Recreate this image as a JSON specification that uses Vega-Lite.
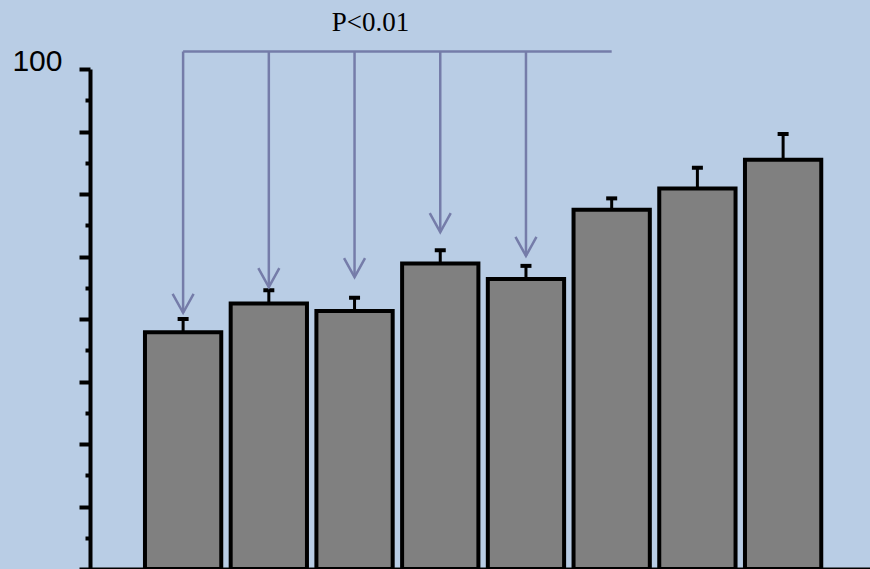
{
  "$schema": "https://vega.github.io/schema/vega-lite/v6.json",
  "width": 780,
  "height": 500,
  "autosize": {"type": "none"},
  "padding": {"left": 90, "top": 69, "right": 0, "bottom": 0},
  "background": "#b9cde5",
  "config": {"view": {"stroke": null}},
  "resolve": {"axis": {"y": "independent"}},
  "datasets": {
    "bars": [
      {"group": "g1", "mean": 57.9, "upper": 60.0},
      {"group": "g2", "mean": 62.5, "upper": 64.6},
      {"group": "g3", "mean": 61.3, "upper": 63.4},
      {"group": "g4", "mean": 68.9, "upper": 71.0},
      {"group": "g5", "mean": 66.4, "upper": 68.5},
      {"group": "g6", "mean": 77.5, "upper": 79.3},
      {"group": "g7", "mean": 80.9, "upper": 84.2},
      {"group": "g8", "mean": 85.5, "upper": 89.6}
    ],
    "arrows": [
      {"group": "g1", "level": 102.8, "tip": 61.0},
      {"group": "g2", "level": 102.8, "tip": 65.1},
      {"group": "g3", "level": 102.8, "tip": 66.7},
      {"group": "g4", "level": 102.8, "tip": 73.9},
      {"group": "g5", "level": 102.8, "tip": 70.1}
    ],
    "bracket": [{"from": "g1", "to": "g6", "level": 102.8}],
    "note": [{"group": "g3", "level": 106.1, "label": "P<0.01"}]
  },
  "encoding": {
    "x": {
      "field": "group",
      "type": "nominal",
      "scale": {"domain": ["g1","g2","g3","g4","g5","g6","g7","g8"], "paddingInner": 0.11, "paddingOuter": 0.605, "align": 0.53},
      "axis": {"title": null, "labels": false, "ticks": false, "domainColor": "black", "domainWidth": 4, "grid": false}
    }
  },
  "layer": [
    {
      "data": {"name": "bars"},
      "mark": {"type": "bar", "fill": "#808080", "stroke": "black", "strokeWidth": 4, "strokeJoin": "miter"},
      "encoding": {
        "y": {
          "field": "mean",
          "type": "quantitative",
          "scale": {"domain": [20, 100], "zero": false, "nice": false},
          "axis": {
            "orient": "left",
            "title": null,
            "grid": false,
            "values": [20,30,40,50,60,70,80,90,100],
            "domainColor": "black",
            "domainWidth": 4,
            "tickColor": "black",
            "tickWidth": 4,
            "tickSize": 11,
            "labelExpr": "datum.value === 100 ? '100' : ''",
            "labelOverlap": false,
            "labelFont": "Liberation Sans",
            "labelFontSize": 30,
            "labelColor": "black",
            "labelPadding": 17,
            "labelBaseline": "alphabetic",
            "labelOffset": 1
          }
        },
        "y2": {"datum": 20}
      }
    },
    {
      "data": {"name": "bars"},
      "mark": {"type": "rule", "stroke": "black", "strokeWidth": 3},
      "encoding": {
        "y": {
          "field": "mean",
          "type": "quantitative",
          "axis": {
            "orient": "left",
            "title": null,
            "grid": false,
            "values": [25,35,45,55,65,75,85,95],
            "domain": false,
            "labels": false,
            "tickColor": "black",
            "tickWidth": 4,
            "tickSize": 5
          }
        },
        "y2": {"field": "upper"}
      }
    },
    {
      "data": {"name": "bars"},
      "mark": {"type": "tick", "color": "black", "size": 11, "thickness": 4, "opacity": 1, "orient": "horizontal"},
      "encoding": {
        "y": {"field": "upper", "type": "quantitative", "axis": null}
      }
    },
    {
      "data": {"name": "arrows"},
      "mark": {"type": "rule", "stroke": "#757ca9", "strokeWidth": 2.5},
      "encoding": {
        "y": {"field": "level", "type": "quantitative", "axis": null},
        "y2": {"field": "tip"}
      }
    },
    {
      "data": {"name": "arrows"},
      "mark": {"type": "point", "shape": "M-1,-1.8L0,0L1,-1.8", "filled": false, "stroke": "#757ca9", "strokeWidth": 2.5, "size": 441, "opacity": 1},
      "encoding": {
        "y": {"field": "tip", "type": "quantitative", "axis": null}
      }
    },
    {
      "data": {"name": "bracket"},
      "mark": {"type": "rule", "stroke": "#757ca9", "strokeWidth": 2.5},
      "encoding": {
        "x": {"field": "from", "type": "nominal"},
        "x2": {"field": "to"},
        "y": {"field": "level", "type": "quantitative", "axis": null}
      }
    },
    {
      "data": {"name": "note"},
      "mark": {"type": "text", "font": "Liberation Serif", "fontSize": 27, "color": "black", "align": "center", "baseline": "alphabetic", "dx": 16},
      "encoding": {
        "y": {"field": "level", "type": "quantitative", "axis": null},
        "text": {"field": "label"}
      }
    }
  ]
}
